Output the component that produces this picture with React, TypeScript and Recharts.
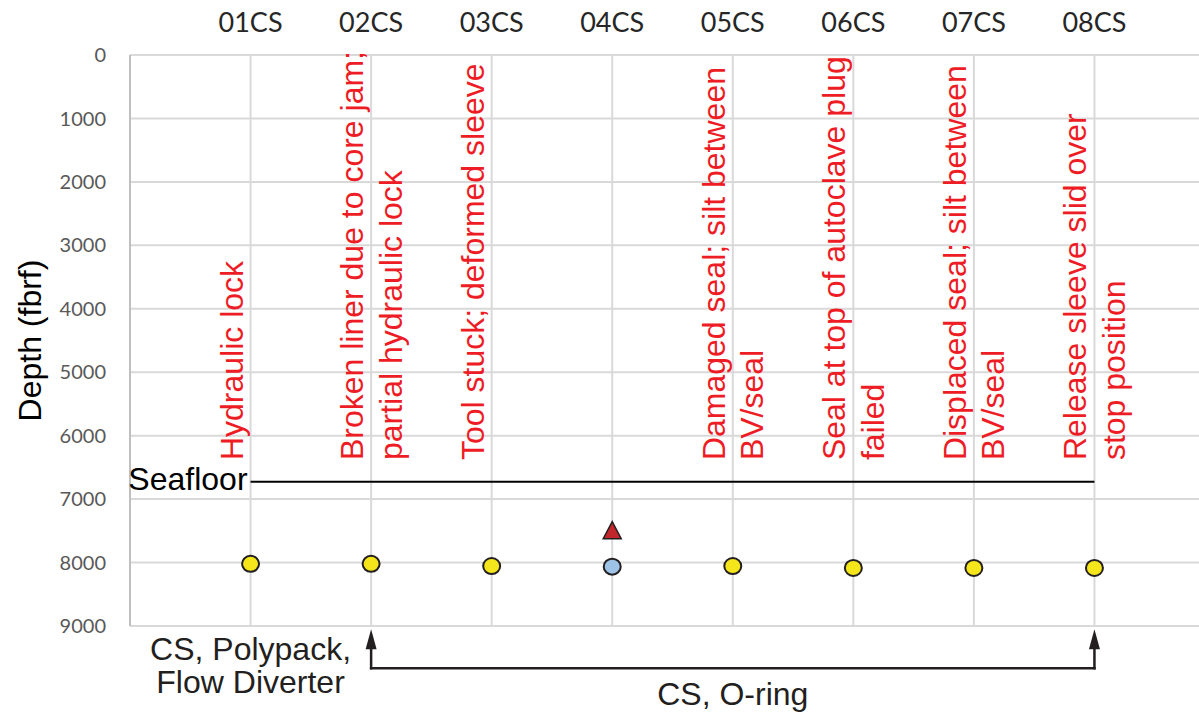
import React from 'react';
import {
  ComposedChart,
  Scatter,
  XAxis,
  YAxis,
  CartesianGrid,
  ReferenceLine,
  ReferenceDot,
} from 'recharts';

// core sites along the top axis
const categories = ['01CS', '02CS', '03CS', '04CS', '05CS', '06CS', '07CS', '08CS'];

// depth of each core (fbrf)
const coreDepths = [8020, 8020, 8055, 8065, 8055, 8085, 8085, 8085];

// sites drawn with the blue marker instead of yellow
const blueSites = ['04CS'];

// the single red triangle
const triangleSites = ['04CS'];
const triangleDepths = [7490];

const seafloorDepth = 6725;

const depthTicks = [0, 1000, 2000, 3000, 4000, 5000, 6000, 7000, 8000, 9000];

// failure notes, one or two lines per site
const failureNotes: string[][] = [
  ['Hydraulic lock'],
  ['Broken liner due to core jam;', 'partial hydraulic lock'],
  ['Tool stuck; deformed sleeve'],
  [],
  ['Damaged seal; silt between', 'BV/seal'],
  ['Seal at top of autoclave plug', 'failed'],
  ['Displaced seal; silt between', 'BV/seal'],
  ['Release sleeve slid over', 'stop position'],
];

// tool configurations under the plot
const singleToolSite = '01CS';
const singleToolLabel = ['CS, Polypack,', 'Flow Diverter'];
const bracketFrom = '02CS';
const bracketTo = '08CS';
const bracketLabel = 'CS, O-ring';

// layout depths for annotations (outside the data range)
const NOTE_BASE = 6385;
const ARROW_TIP = 9050;
const BRACKET_DEPTH = 9665;
const SINGLE_LABEL_DEPTH = 9537;
const BRACKET_LABEL_DEPTH = 10246;

const ARIAL = '"Liberation Sans", Arial, sans-serif';
const RED = '#ee1c25';
const INK = '#231f20';

const pos = (site: string) => categories.indexOf(site) + 1;

const yellowData = categories
  .map((c, i) => ({ x: i + 1, depth: coreDepths[i], site: c }))
  .filter((d) => !blueSites.includes(d.site));
const blueData = categories
  .map((c, i) => ({ x: i + 1, depth: coreDepths[i], site: c }))
  .filter((d) => blueSites.includes(d.site));
const triangleData = triangleSites.map((s, i) => ({ x: pos(s), depth: triangleDepths[i] }));
const noteData = categories
  .map((c, i) => ({ x: i + 1, depth: NOTE_BASE, lines: failureNotes[i] }))
  .filter((d) => d.lines.length > 0);

const Dot = (fill: string) => (props: any) => {
  const { cx, cy } = props;
  return <ellipse cx={cx} cy={cy} rx={8.5} ry={8} fill={fill} stroke={INK} strokeWidth={2} />;
};

const Triangle = (props: any) => {
  const { cx, cy } = props;
  const pts = `${cx},${cy - 8.5} ${cx + 9},${cy + 8.5} ${cx - 9},${cy + 8.5}`;
  return <polygon points={pts} fill="#c1272d" stroke={INK} strokeWidth={1.5} />;
};

const Note = (props: any) => {
  const { cx, cy, payload } = props;
  return (
    <g>
      {payload.lines.map((line: string, k: number) => {
        const bx = cx + (k === 0 ? -8 : 30.5);
        return (
          <text
            key={k}
            x={bx}
            y={cy}
            transform={`rotate(-90 ${bx} ${cy})`}
            fontFamily={ARIAL}
            fontSize={32}
            fill={RED}
            textAnchor="start"
          >
            {line}
          </text>
        );
      })}
    </g>
  );
};

const Arrow = (props: any) => {
  const { x1, y1, x2, y2 } = props;
  const a = Math.atan2(y2 - y1, x2 - x1);
  const len = 20;
  const half = 5.5;
  const bx = x2 - len * Math.cos(a);
  const by = y2 - len * Math.sin(a);
  const pts = `${x2},${y2} ${bx + half * Math.sin(a)},${by - half * Math.cos(a)} ${bx - half * Math.sin(a)},${by + half * Math.cos(a)}`;
  return (
    <g>
      <line x1={x1} y1={y1} x2={bx} y2={by} stroke={INK} strokeWidth={2.5} strokeLinecap="square" />
      <polygon points={pts} fill={INK} />
    </g>
  );
};

const BlockText = (lines: string[], lineGap: number) => (props: any) => {
  const { cx, cy } = props;
  return (
    <text x={cx} y={cy} fontFamily={ARIAL} fontSize={32} fill={INK} textAnchor="middle">
      {lines.map((l, k) => (
        <tspan key={k} x={cx} dy={k === 0 ? 0 : lineGap}>
          {l}
        </tspan>
      ))}
    </text>
  );
};

export default function App() {
  return (
    <div
      style={{
        position: 'absolute',
        left: 0,
        top: 0,
        width: 1199,
        height: 714,
        overflow: 'hidden',
        background: '#fff',
      }}
    >
      <ComposedChart width={1230} height={714} margin={{ top: 0, right: 15, bottom: 88, left: 0 }}>
        <CartesianGrid stroke="#d9d9d9" strokeWidth={2} />
        <XAxis
          type="number"
          dataKey="x"
          orientation="top"
          domain={[0, 9]}
          ticks={[1, 2, 3, 4, 5, 6, 7, 8]}
          interval={0}
          tickFormatter={(v: number) => categories[v - 1] ?? ''}
          height={55}
          axisLine={false}
          tickLine={false}
          tickSize={0}
          tickMargin={23}
          tick={{ fontFamily: 'Lato', fontSize: 27, fill: '#262626' }}
        />
        <YAxis
          type="number"
          dataKey="depth"
          reversed
          domain={[0, 9000]}
          ticks={depthTicks}
          interval={0}
          width={130}
          axisLine={{ stroke: '#bfbfbf', strokeWidth: 2 }}
          tickLine={false}
          tickSize={0}
          tickMargin={24}
          tick={{ fontFamily: 'Lato', fontSize: 20, fill: '#595959' }}
          label={{
            value: 'Depth (fbrf)',
            angle: -90,
            position: 'center',
            dx: -35,
            style: { fontFamily: ARIAL, fontSize: 32, fill: '#000' },
          }}
        />
        <Scatter data={noteData} shape={Note} isAnimationActive={false} />
        <ReferenceLine
          segment={[
            { x: 1, y: seafloorDepth },
            { x: 8, y: seafloorDepth },
          ]}
          stroke="#000"
          strokeWidth={2}
          ifOverflow="visible"
          label={{
            value: 'Seafloor',
            position: 'left',
            offset: 3,
            dy: -3,
            style: { fontFamily: ARIAL, fontSize: 32, fill: '#000' },
          }}
        />
        <Scatter data={yellowData} shape={Dot('#f4e61a')} isAnimationActive={false} />
        <Scatter data={blueData} shape={Dot('#9dc3e6')} isAnimationActive={false} />
        <Scatter data={triangleData} shape={Triangle} isAnimationActive={false} />

        <ReferenceLine
          segment={[
            { x: pos(bracketFrom), y: BRACKET_DEPTH },
            { x: pos(bracketTo), y: BRACKET_DEPTH },
          ]}
          ifOverflow="visible"
          stroke={INK}
          strokeWidth={2.5}
          strokeLinecap="square"
        />
        <ReferenceLine
          segment={[
            { x: pos(bracketFrom), y: BRACKET_DEPTH },
            { x: pos(bracketFrom), y: ARROW_TIP },
          ]}
          ifOverflow="visible"
          shape={Arrow}
        />
        <ReferenceLine
          segment={[
            { x: pos(bracketTo), y: BRACKET_DEPTH },
            { x: pos(bracketTo), y: ARROW_TIP },
          ]}
          ifOverflow="visible"
          shape={Arrow}
        />
        <ReferenceDot
          x={pos(singleToolSite)}
          y={SINGLE_LABEL_DEPTH}
          ifOverflow="visible"
          shape={BlockText(singleToolLabel, 33)}
        />
        <ReferenceDot
          x={(pos(bracketFrom) + pos(bracketTo)) / 2}
          y={BRACKET_LABEL_DEPTH}
          ifOverflow="visible"
          shape={BlockText([bracketLabel], 0)}
        />
      </ComposedChart>
    </div>
  );
}
